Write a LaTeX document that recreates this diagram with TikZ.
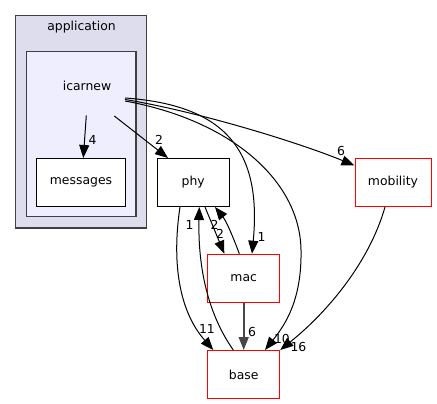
\documentclass[tikz,border=0pt]{standalone}
\usepackage{fontspec}
\setmainfont{DejaVu Sans}
\usetikzlibrary{arrows.meta}
\definecolor{clout}{HTML}{DDDDEE}
\definecolor{clin}{HTML}{EEEEFF}
\definecolor{clborder}{HTML}{404040}
\begin{document}
\begin{tikzpicture}[x=1pt,y=-1pt,
  every node/.style={font=\fontsize{12.4}{14}\selectfont, inner sep=0pt},
  dirbox/.style={draw=black, line width=1pt, fill=white, minimum width=72pt, minimum height=48pt},
  redbox/.style={draw=red, line width=1pt, fill=white, minimum width=72pt, minimum height=48pt},
  cl/.style={draw=clborder, line width=1.3pt},
  dep/.style={draw=black, line width=1pt, -{Triangle[length=13pt,width=10pt]}},
  depgray/.style={draw=black!72, line width=1.6pt, -{Triangle[length=13pt,width=10pt]}},
  elab/.style={font=\fontsize{12.4}{14}\selectfont}]
\useasboundingbox (0,0) rectangle (437,404);
% clusters
\draw[cl, fill=clout] (15.7,15.7) rectangle (146.7,228);
\draw[cl, fill=clin] (26.7,51.7) rectangle (136,216.7);
\node (application) at (81.5,27.5) {application};
\node (icarnew) at (87,85.5) {icarnew};
% nodes
\node[dirbox, minimum width=88.6pt] (messages) at (81,182.5) {messages};
\node[dirbox] (phy) at (193.2,182.5) {phy};
\node[redbox, minimum width=76pt] (mobility) at (393,182.5) {mobility};
\node[redbox] (mac) at (243.7,278.2) {mac};
\node[redbox] (base) at (243.7,374.5) {base};
% edges
\draw[dep] ([xshift=-0.7pt,yshift=-25pt]icarnew.south) -- ([xshift=2.3pt]messages.north);
\node[elab] (l4) at (92.5,140) {4};
\draw[dep] ([xshift=27.3pt,yshift=-25.5pt]icarnew.south) -- ([xshift=-25.2pt]phy.north);
\node[elab] (l2a) at (159,140) {2};
\draw[dep] ([xshift=38pt,yshift=-7.5pt]icarnew.south) .. controls (225,105) and (262,150) .. ([xshift=8.3pt]mac.north);
\node[elab] (l1a) at (261.5,236.5) {1};
\draw[dep] ([xshift=38pt,yshift=-10.5pt]icarnew.south) .. controls (230,120) and (300,180) .. (301,250) .. controls (302,300) and (285,325) .. ([xshift=21.3pt]base.north);
\node[elab] (l10) at (282,338.5) {10};
\draw[dep] ([xshift=38pt,yshift=-9pt]icarnew.south) .. controls (200,112) and (300,143) .. ([yshift=-7.5pt]mobility.north west);
\node[elab] (l6a) at (341,150.5) {6};
\draw[dep] ([xshift=-13.2pt]phy.south) .. controls (172,260) and (178,310) .. ([xshift=-30.4pt]base.north);
\node[elab] (l11) at (207,329) {11};
\draw[dep] ([xshift=-10.4pt]base.north) .. controls (205,310) and (198,260) .. ([xshift=6.1pt]phy.south);
\node[elab] (l1b) at (189.5,224.5) {1};
\draw[dep] ([xshift=11.8pt]phy.south) -- ([xshift=-19.4pt]mac.north);
\node[elab] (l2b) at (220,233.5) {2};
\draw[dep] ([xshift=-4.4pt]mac.north) .. controls (235,242) and (227,222) .. ([xshift=21.8pt]phy.south);
\node[elab] (l2c) at (214.5,225) {2};
\draw[depgray] (mac.south) -- (base.north);
\node[elab] (l6b) at (252,331.5) {6};
\draw[dep] ([xshift=-8pt]mobility.south) .. controls (370,260) and (330,310) .. (base.north east);
\node[elab] (l16) at (298.5,346.5) {16};
\end{tikzpicture}
\end{document}
